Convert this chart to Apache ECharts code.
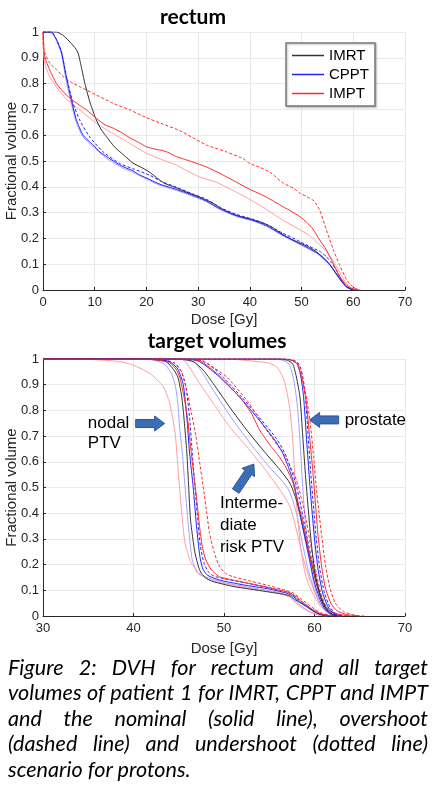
<!DOCTYPE html>
<html>
<head>
<meta charset="utf-8">
<script src="https://cdn.jsdelivr.net/npm/echarts@6/dist/echarts.min.js"></script>
<style>
body { margin: 0; background: #fff; }
#main { position: absolute; left: 0; top: 0; width: 435px; height: 656px; }
#cap { position: absolute; left: 8px; top: 655px; width: 420px; font-family: Lato, sans-serif; font-style: italic; font-size: 21.6px; line-height: 25.4px; color: #000; }
#cap div { text-align: justify; text-align-last: justify; white-space: nowrap; }
#cap div.last { text-align-last: left; }
</style>
</head>
<body>
<div id="main"></div>
<div id="cap">
<div>Figure 2: DVH for rectum and all target</div>
<div>volumes of patient 1 for IMRT, CPPT and IMPT</div>
<div>and the nominal (solid line), overshoot</div>
<div>(dashed line) and undershoot (dotted line)</div>
<div class="last">scenario for protons.</div>
</div>
<script>
// rectum DVH, [dose Gy, fractional volume]
var rectumImrt = [[0,1],[2.6,1],[4,0.985],[5.5,0.955],[6.7,0.923],[7.4,0.865],[8.1,0.80],[9.2,0.72],[10.3,0.66],[11.3,0.62],[12.3,0.594],[13.8,0.555],[15.5,0.525],[17.4,0.492],[19.3,0.472],[20.5,0.458],[22,0.435],[23.5,0.413],[25.5,0.398],[27.7,0.38],[30.3,0.36],[32.9,0.336],[34.8,0.313],[36.7,0.295],[38.5,0.283],[40,0.276],[42,0.264],[44,0.247],[46.4,0.215],[48,0.197],[49.7,0.182],[51.5,0.166],[52.9,0.148],[54.2,0.125],[55.5,0.097],[56.5,0.068],[57.4,0.042],[58.7,0.012],[60,0.002],[61,0]];
var rectumCppt = [[0,1],[1.6,1],[2.5,0.975],[3.56,0.923],[4.5,0.827],[5.5,0.736],[6.46,0.659],[7.74,0.60],[9.0,0.575],[9.7,0.562],[11,0.535],[12.3,0.517],[14,0.495],[15.5,0.478],[17.4,0.462],[18.5,0.448],[20,0.434],[22.6,0.41],[25.8,0.39],[29,0.367],[31.6,0.345],[34.2,0.315],[37.4,0.288],[40.6,0.27],[43.2,0.25],[46.4,0.213],[49.7,0.179],[52.9,0.145],[54.5,0.12],[55.5,0.098],[56.5,0.07],[57.4,0.045],[58.7,0.012],[60,0]];
var rectumCpptOver = [[0,1],[1.6,1],[2.5,0.975],[3.56,0.923],[4.5,0.83],[5.8,0.724],[7.1,0.659],[9.0,0.594],[11.6,0.536],[14.8,0.491],[17.4,0.47],[20.6,0.445],[23,0.42],[26,0.397],[29,0.372],[32,0.348],[34.2,0.32],[37.4,0.293],[40.6,0.274],[43.2,0.254],[46.4,0.22],[49.7,0.188],[51.6,0.168],[53.5,0.15],[54.8,0.129],[55.8,0.105],[56.7,0.078],[58,0.03],[59.3,0.004],[60,0]];
var rectumCpptUnder = [[0,1],[1.4,1],[2.4,0.975],[3.5,0.92],[4.4,0.82],[5.4,0.73],[6.4,0.65],[7.7,0.595],[9.7,0.556],[12.3,0.51],[15.5,0.472],[17.4,0.456],[20,0.43],[22.6,0.406],[25.8,0.386],[29,0.363],[31.6,0.342],[34.2,0.312],[37.4,0.285],[40.6,0.267],[43.2,0.247],[46.4,0.21],[49.7,0.176],[52.9,0.142],[55.5,0.095],[57.4,0.042],[58.7,0.01],[60,0]];
var rectumImpt = [[0,1],[0.15,0.95],[0.33,0.904],[1.3,0.853],[2.6,0.80],[4.5,0.756],[6.5,0.724],[8.4,0.698],[10.3,0.666],[12,0.64],[13.5,0.628],[15,0.612],[16.8,0.59],[18.5,0.572],[20,0.555],[21.5,0.547],[23.2,0.54],[24,0.535],[25.8,0.517],[29,0.496],[31.6,0.477],[34.2,0.452],[37.4,0.418],[40,0.39],[43.2,0.36],[46.4,0.323],[48,0.305],[49.7,0.284],[51,0.262],[52.2,0.236],[53.5,0.194],[54.8,0.155],[56.1,0.103],[57.4,0.052],[58.7,0.019],[60,0.003],[61,0]];
var rectumImptOver = [[0,1],[0.05,0.94],[1.3,0.879],[2.6,0.855],[3.9,0.827],[5.5,0.805],[7.1,0.788],[10.3,0.756],[13.5,0.724],[16.8,0.698],[20,0.668],[23.2,0.643],[26.4,0.618],[29,0.59],[31.6,0.562],[35.5,0.535],[38.7,0.509],[40,0.49],[42,0.475],[44,0.455],[46.4,0.415],[48.4,0.395],[49.7,0.375],[51,0.362],[52.4,0.345],[53.5,0.31],[54.8,0.233],[56.1,0.158],[57.4,0.095],[58.7,0.04],[60,0.01],[61.3,0]];
var rectumImptUnder = [[0,1],[0.1,0.93],[0.33,0.878],[1.3,0.827],[2.6,0.787],[4.5,0.74],[7.1,0.698],[10.3,0.646],[13.5,0.607],[16.8,0.568],[20,0.53],[23.2,0.504],[25.8,0.484],[28,0.46],[30.3,0.438],[33.5,0.418],[36.7,0.386],[40,0.351],[43,0.315],[46.4,0.271],[49.7,0.233],[51.2,0.215],[52.2,0.2],[53.5,0.175],[54.8,0.15],[56.1,0.113],[57.2,0.075],[58.2,0.04],[59.3,0.012],[60.6,0]];

// target volumes: nodal PTV
var nodalImrt = [[30,1],[40,1],[42,0.998],[43.6,0.99],[44.4,0.96],[44.9,0.93],[45.3,0.86],[45.5,0.8],[45.7,0.72],[45.9,0.633],[46.1,0.5],[46.3,0.374],[46.6,0.29],[46.8,0.244],[47.2,0.19],[47.5,0.166],[48.1,0.145],[48.8,0.134],[51,0.115],[54.7,0.095],[56.5,0.085],[57.3,0.078],[57.8,0.065],[58.5,0.05],[59.1,0.037],[59.8,0.022],[60.6,0.008],[61.7,0]];
var nodalCppt = [[30,1],[40,1],[42.5,0.998],[44,0.99],[44.9,0.96],[45.5,0.9],[45.9,0.77],[46.2,0.633],[46.6,0.5],[46.9,0.374],[47.2,0.27],[47.4,0.218],[47.7,0.18],[48.2,0.158],[49.5,0.14],[52,0.122],[55,0.105],[56.8,0.09],[57.5,0.08],[58.2,0.06],[59,0.04],[59.8,0.02],[60.6,0.006],[61.5,0]];
var nodalCpptOver = [[30,1],[41,1],[43,0.997],[44.5,0.985],[45.3,0.95],[45.8,0.89],[46.2,0.77],[46.5,0.633],[46.8,0.5],[47.1,0.374],[47.4,0.27],[47.8,0.205],[48.3,0.17],[48.9,0.155],[50,0.145],[52.5,0.128],[55,0.11],[56.8,0.095],[57.5,0.085],[58.2,0.065],[59,0.045],[59.8,0.022],[60.6,0.007],[61.5,0]];
var nodalCpptUnder = [[30,1],[40,1],[42,0.997],[43.3,0.983],[44.1,0.95],[44.6,0.9],[44.9,0.827],[45.1,0.73],[45.4,0.633],[45.7,0.5],[46.0,0.374],[46.3,0.27],[46.5,0.218],[47.1,0.166],[48.4,0.147],[50,0.13],[53,0.11],[56,0.092],[57.3,0.075],[58,0.055],[58.8,0.032],[59.6,0.015],[60.5,0.004],[61.5,0]];
var nodalImpt = [[30,1],[40,1],[42.5,0.997],[44,0.985],[44.7,0.96],[45.1,0.93],[45.6,0.85],[46.0,0.76],[46.3,0.66],[46.6,0.568],[47.0,0.45],[47.3,0.348],[47.6,0.27],[48.0,0.218],[48.6,0.18],[49.5,0.153],[51,0.14],[53,0.125],[55,0.11],[56.8,0.095],[57.6,0.085],[58.3,0.065],[59,0.045],[59.8,0.025],[60.6,0.01],[61.5,0.002],[62.5,0]];
var nodalImptOver = [[30,1],[41,1],[43,0.997],[44.5,0.985],[45.3,0.95],[45.8,0.89],[46.4,0.79],[46.9,0.698],[47.3,0.6],[47.7,0.503],[48.1,0.4],[48.4,0.322],[48.9,0.25],[49.5,0.192],[50.2,0.165],[51,0.153],[53,0.135],[55,0.118],[56.8,0.1],[57.6,0.09],[58.4,0.07],[59.2,0.048],[60,0.027],[60.8,0.011],[61.8,0.003],[63,0]];
var nodalImptUnder = [[30,1],[34,1],[36.3,0.996],[38.5,0.99],[39.9,0.977],[41.8,0.944],[43.3,0.892],[44.0,0.828],[44.6,0.711],[44.9,0.581],[45.3,0.412],[45.7,0.283],[46.4,0.205],[47.7,0.153],[49,0.135],[51,0.12],[54,0.1],[56,0.088],[57.2,0.075],[57.8,0.055],[58.5,0.035],[59.3,0.018],[60.2,0.006],[61.2,0]];

// target volumes: intermediate risk PTV
var interImrt = [[30,1],[44,1],[45.5,0.998],[46.6,0.99],[47.7,0.957],[48.8,0.905],[50.6,0.814],[52.5,0.724],[54.3,0.646],[56.2,0.568],[57.3,0.516],[58.0,0.451],[58.7,0.347],[59.5,0.231],[60.2,0.127],[60.9,0.049],[61.7,0.01],[62.5,0]];
var interCppt = [[30,1],[45,1],[46.5,0.997],[47.3,0.99],[48.5,0.96],[49.5,0.93],[51.7,0.853],[53.9,0.762],[55.5,0.69],[56.4,0.64],[57.0,0.59],[57.6,0.53],[58.0,0.47],[58.4,0.40],[58.9,0.31],[59.5,0.21],[60.0,0.13],[60.6,0.065],[61.2,0.025],[62,0.005],[62.5,0]];
var interCpptOver = [[30,1],[45.5,1],[47,0.997],[47.8,0.99],[49,0.96],[50,0.925],[52,0.85],[54.2,0.76],[55.8,0.69],[56.7,0.635],[57.3,0.58],[57.9,0.52],[58.3,0.46],[58.7,0.39],[59.2,0.30],[59.8,0.2],[60.3,0.12],[60.9,0.06],[61.5,0.022],[62.3,0.004],[63,0]];
var interCpptUnder = [[30,1],[44.5,1],[46,0.995],[46.9,0.983],[48.8,0.879],[51,0.762],[53.2,0.658],[55.0,0.58],[56.2,0.535],[57.0,0.5],[57.5,0.46],[58.0,0.40],[58.4,0.33],[58.8,0.26],[59.3,0.18],[59.9,0.11],[60.5,0.055],[61.2,0.02],[62,0]];
var interImpt = [[30,1],[45,1],[46.5,0.998],[47.5,0.99],[49.2,0.944],[51.7,0.853],[53.0,0.79],[54.0,0.72],[55.2,0.66],[56.1,0.62],[56.9,0.575],[57.6,0.52],[58.1,0.45],[58.7,0.37],[59.2,0.28],[59.8,0.19],[60.4,0.11],[60.9,0.055],[61.5,0.025],[62.5,0.008],[64,0]];
var interImptOver = [[30,1],[46,1],[47.5,0.995],[48.3,0.98],[50.3,0.93],[52.5,0.84],[54.7,0.724],[56.0,0.66],[56.8,0.62],[57.5,0.57],[58.0,0.53],[58.6,0.45],[59.1,0.37],[59.6,0.27],[60.2,0.166],[60.7,0.09],[61.3,0.036],[62.2,0.01],[63.5,0]];
var interImptUnder = [[30,1],[44,1],[45.5,0.996],[47.3,0.905],[48.8,0.828],[50.6,0.737],[52.5,0.659],[54.3,0.581],[56.2,0.49],[57.3,0.425],[58.0,0.335],[58.7,0.23],[59.5,0.14],[60.6,0.05],[61.5,0.015],[62.5,0]];

// target volumes: prostate
var prostImrt = [[30,1],[56,1],[57,0.995],[57.6,0.98],[58.0,0.93],[58.4,0.85],[58.7,0.70],[59.0,0.55],[59.3,0.42],[59.6,0.30],[60.0,0.18],[60.6,0.085],[61.2,0.035],[61.8,0.01],[62.5,0]];
var prostCppt = [[30,1],[56.5,1],[57.5,0.995],[58.1,0.98],[58.5,0.93],[58.8,0.85],[59.1,0.70],[59.4,0.55],[59.7,0.42],[60.0,0.30],[60.4,0.18],[60.9,0.09],[61.5,0.035],[62.2,0.008],[63,0]];
var prostCpptOver = [[30,1],[56.7,1],[57.7,0.995],[58.3,0.98],[58.7,0.93],[59.0,0.85],[59.3,0.70],[59.6,0.55],[59.9,0.42],[60.2,0.30],[60.6,0.18],[61.1,0.09],[61.7,0.035],[62.4,0.008],[63.2,0]];
var prostCpptUnder = [[30,1],[55.5,1],[56.5,0.995],[57.2,0.98],[57.7,0.92],[58.1,0.82],[58.4,0.68],[58.7,0.50],[59.0,0.36],[59.4,0.24],[59.9,0.13],[60.5,0.06],[61.2,0.02],[62,0]];
var prostImpt = [[30,1],[56.5,1],[57.5,0.995],[58.1,0.98],[58.6,0.93],[59.1,0.83],[59.5,0.68],[59.8,0.57],[60.1,0.44],[60.4,0.31],[60.8,0.19],[61.2,0.11],[61.8,0.05],[62.5,0.02],[63.5,0.006],[65,0]];
var prostImptOver = [[30,1],[57,1],[58,0.99],[58.5,0.96],[59.0,0.87],[59.5,0.76],[59.9,0.62],[60.2,0.50],[60.5,0.40],[60.8,0.31],[61.2,0.2],[61.7,0.11],[62.3,0.05],[63.2,0.017],[64.5,0.003],[65.5,0]];
var prostImptUnder = [[30,1],[50,1],[54.7,0.986],[55.8,0.97],[56.5,0.93],[56.9,0.88],[57.3,0.8],[57.6,0.68],[58.0,0.44],[58.5,0.26],[59.0,0.16],[59.5,0.11],[60.6,0.04],[62,0.005],[63,0]];

var legendNames = ['IMRT', 'CPPT', 'IMPT'];

var FONT = '"Liberation Sans", Arial, sans-serif';
var AXIS_COLOR = '#262626';
var C_IMRT = '#333333', C_CPPT = '#2020ff', C_IMPT = '#ff2a2a';
var C_CPPT_LIGHT = '#a0a0ff', C_IMPT_LIGHT = '#ff9e9e';

var chart = echarts.init(document.getElementById('main'));

function line(name, data, color, dash, grid, z) {
    return {
        name: name, type: 'line', data: data,
        xAxisIndex: grid, yAxisIndex: grid,
        symbol: 'none', showSymbol: false, smooth: 0.2, silent: true, animation: false,
        lineStyle: { color: color, width: 1, type: dash ? [3, 2] : 'solid' },
        itemStyle: { color: color },
        z: z || 2
    };
}
// one structure = 7 curves (IMRT + nominal/over/under for both proton techniques)
function structure(tag, grid, imrt, cppt, cpptOver, cpptUnder, impt, imptOver, imptUnder) {
    return [
        line('CPPT under' + tag, cpptUnder, C_CPPT_LIGHT, false, grid, 2),
        line('IMPT under' + tag, imptUnder, C_IMPT_LIGHT, false, grid, 2),
        line('CPPT over' + tag, cpptOver, C_CPPT, true, grid, 3),
        line('IMPT over' + tag, imptOver, C_IMPT, true, grid, 3),
        line((grid === 0 ? 'IMRT' : 'IMRT' + tag), imrt, C_IMRT, false, grid, 4),
        line((grid === 0 ? 'CPPT' : 'CPPT' + tag), cppt, C_CPPT, false, grid, 4),
        line((grid === 0 ? 'IMPT' : 'IMPT' + tag), impt, C_IMPT, false, grid, 4)
    ];
}

function xAxis(grid, min, max, gap) {
    return {
        type: 'value', gridIndex: grid, min: min, max: max, interval: 10,
        name: 'Dose [Gy]', nameLocation: 'middle', nameGap: gap, nameMoveOverlap: false,
        nameTextStyle: { fontFamily: FONT, fontSize: 15, color: AXIS_COLOR },
        axisLine: { show: true, onZero: false, lineStyle: { color: AXIS_COLOR, width: 1 } },
        axisTick: { show: true, inside: true, length: 3, lineStyle: { color: AXIS_COLOR } },
        axisLabel: { fontFamily: FONT, fontSize: 13, color: AXIS_COLOR, margin: 6, hideOverlap: false },
        splitLine: { show: true, lineStyle: { color: '#e9e9e9', width: 1 } }
    };
}
function yAxis(grid) {
    return {
        type: 'value', gridIndex: grid, min: 0, max: 1, interval: 0.1,
        name: 'Fractional volume', nameLocation: 'middle', nameGap: 24, nameRotate: 90, nameMoveOverlap: false,
        nameTextStyle: { fontFamily: FONT, fontSize: 15, color: AXIS_COLOR },
        axisLine: { show: true, onZero: false, lineStyle: { color: AXIS_COLOR, width: 1 } },
        axisTick: { show: true, inside: true, length: 3, lineStyle: { color: AXIS_COLOR } },
        axisLabel: { fontFamily: FONT, fontSize: 13, color: AXIS_COLOR, margin: 4, hideOverlap: false,
            formatter: function (v) { return String(Math.round(v * 10) / 10); } },
        splitLine: { show: true, lineStyle: { color: '#e9e9e9', width: 1 } }
    };
}

var series = [].concat(
    structure('', 0, rectumImrt, rectumCppt, rectumCpptOver, rectumCpptUnder, rectumImpt, rectumImptOver, rectumImptUnder),
    structure(' nodal', 1, nodalImrt, nodalCppt, nodalCpptOver, nodalCpptUnder, nodalImpt, nodalImptOver, nodalImptUnder),
    structure(' inter', 1, interImrt, interCppt, interCpptOver, interCpptUnder, interImpt, interImptOver, interImptUnder),
    structure(' prostate', 1, prostImrt, prostCppt, prostCpptOver, prostCpptUnder, prostImpt, prostImptOver, prostImptUnder)
);

chart.setOption({
    backgroundColor: '#fff',
    animation: false,
    title: [
        { text: 'rectum', left: 193, top: 7, textAlign: 'center', padding: 0,
          textStyle: { fontFamily: 'Lato', fontWeight: 'bold', fontSize: 21, color: '#000' } },
        { text: 'target volumes', left: 217, top: 331, textAlign: 'center', padding: 0,
          textStyle: { fontFamily: 'Lato', fontWeight: 'bold', fontSize: 21, color: '#000' } }
    ],
    legend: {
        data: legendNames, orient: 'vertical', left: 286, top: 43,
        icon: 'rect', itemWidth: 32, itemHeight: 1.5, itemGap: 4, padding: [5, 6, 5, 6],
        borderColor: '#7a7a7a', borderWidth: 1.5, backgroundColor: '#fff',
        shadowColor: 'rgba(0,0,0,0.25)', shadowBlur: 2, shadowOffsetX: 1, shadowOffsetY: 1,
        selectedMode: false,
        textStyle: { fontFamily: FONT, fontSize: 15, color: '#000', lineHeight: 15 }
    },
    grid: [
        { left: 43, top: 32, width: 362, height: 258, outerBoundsMode: 'none' },
        { left: 43, top: 359, width: 362, height: 257, outerBoundsMode: 'none' }
    ],
    xAxis: [xAxis(0, 0, 70, 22), xAxis(1, 30, 70, 25)],
    yAxis: [yAxis(0), yAxis(1)],
    series: series
});

// annotations in the target volume panel, placed in data coordinates
function px(p) { return chart.convertToPixel({ gridIndex: 1 }, p); }
function arrow(from, to) {
    var a = px(from), b = px(to);
    var dx = b[0] - a[0], dy = b[1] - a[1], L = Math.sqrt(dx * dx + dy * dy);
    var ux = dx / L, uy = dy / L, nx = -uy, ny = ux;
    var bw = 4, hw = 7.5, hl = 10;
    var hx = b[0] - ux * hl, hy = b[1] - uy * hl;
    return {
        type: 'polygon', z: 20,
        shape: { points: [
            [a[0] + nx * bw, a[1] + ny * bw], [hx + nx * bw, hy + ny * bw], [hx + nx * hw, hy + ny * hw],
            b, [hx - nx * hw, hy - ny * hw], [hx - nx * bw, hy - ny * bw], [a[0] - nx * bw, a[1] - ny * bw]
        ] },
        style: { fill: '#3d6db5', stroke: '#2f5597', lineWidth: 1 }
    };
}
function label(text, at) {
    var p = px(at);
    return { type: 'text', z: 20, x: p[0], y: p[1],
        style: { text: text, fontFamily: FONT, fontSize: 17, fill: '#000', verticalAlign: 'middle', align: 'left' } };
}

chart.setOption({
    graphic: [
        arrow([40.24, 0.749], [43.44, 0.749]),
        arrow([62.67, 0.763], [59.46, 0.763]),
        arrow([51.3, 0.486], [53.3, 0.591]),
        label('nodal', [34.95, 0.751]),
        label('PTV', [34.95, 0.673]),
        label('prostate', [63.33, 0.763]),
        label('Interme-', [49.55, 0.44]),
        label('diate', [49.55, 0.354]),
        label('risk PTV', [49.55, 0.268])
    ]
});
</script>
</body>
</html>
